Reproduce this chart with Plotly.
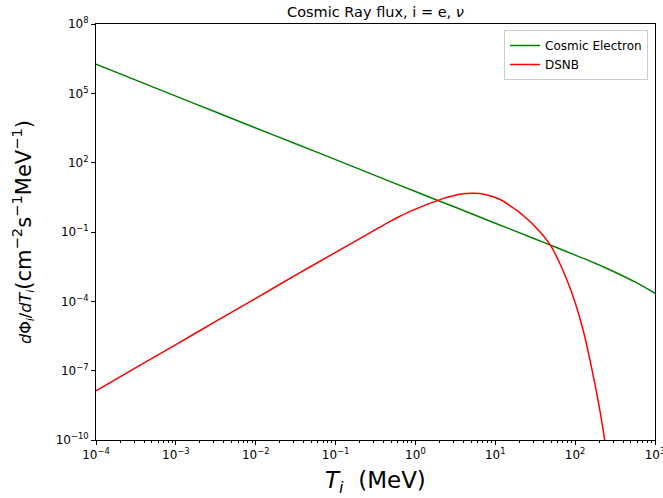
import plotly.graph_objects as go

# ---- data (log-log) ----
electron_T = [1e-4, 3.16e-4, 1e-3, 3.16e-3, 1e-2, 3.16e-2, 0.1, 0.316, 1.0, 3.16, 10,
              31.6, 56.2, 100, 178, 316, 562, 1000]
electron_flux = [1.82e6, 3.72e5, 7.59e4, 1.55e4, 3.16e3, 661, 135, 27.5, 5.62, 1.17, 0.240,
                 0.0501, 0.0224, 0.0100, 4.47e-3, 1.82e-3, 6.92e-4, 2.24e-4]

dsnb_T = [1e-4, 3.16e-4, 1e-3, 3.16e-3, 1e-2, 3.16e-2, 0.1, 0.316, 0.398, 0.501, 0.631,
          0.794, 1.0, 1.26, 1.58, 2.0, 2.51, 3.16, 3.98, 5.01, 6.31, 7.94, 10, 12.6, 15.8,
          20.0, 25.1, 31.6, 39.8, 50.1, 63.1, 79.4, 100, 126, 158, 200, 251]
dsnb_flux = [1.35e-8, 1.35e-7, 1.35e-6, 1.35e-5, 1.35e-4, 1.35e-3, 1.32e-2, 0.126, 0.200,
             0.309, 0.468, 0.692, 0.977, 1.35, 1.82, 2.45, 3.16, 3.89, 4.47, 4.79, 4.68,
             3.98, 3.09, 2.14, 1.26, 0.708, 0.363, 0.170, 0.0708, 0.0240, 5.01e-3, 7.94e-4,
             8.91e-5, 5.62e-6, 1.78e-7, 2.82e-9, 2.24e-11]

x_tickvals = [1e-4, 1e-3, 1e-2, 1e-1, 1e0, 1e1, 1e2, 1e3]
x_ticktext = ["10<sup>−4</sup>", "10<sup>−3</sup>", "10<sup>−2</sup>", "10<sup>−1</sup>",
              "10<sup>0</sup>", "10<sup>1</sup>", "10<sup>2</sup>", "10<sup>3</sup>"]
y_tickvals = [1e-10, 1e-7, 1e-4, 1e-1, 1e2, 1e5, 1e8]
y_ticktext = ["10<sup>−10</sup>", "10<sup>−7</sup>", "10<sup>−4</sup>", "10<sup>−1</sup>",
              "10<sup>2</sup>", "10<sup>5</sup>", "10<sup>8</sup>"]

FONT = "DejaVu Sans"

fig = go.Figure()
fig.add_trace(go.Scatter(x=electron_T, y=electron_flux, mode="lines", name="Cosmic Electron",
                         line=dict(color="#008000", width=1.5, shape="spline", smoothing=0.8)))
fig.add_trace(go.Scatter(x=dsnb_T, y=dsnb_flux, mode="lines", name="DSNB",
                         line=dict(color="#ff0000", width=1.5, shape="spline", smoothing=0.8)))

axis_common = dict(showline=True, linecolor="black", linewidth=1, mirror=True,
                   showgrid=False, zeroline=False, ticks="outside", ticklen=4,
                   tickwidth=1, tickcolor="black", ticklabeloverflow="allow",
                   tickfont=dict(family=FONT, size=12, color="black"))

fig.update_xaxes(type="log", range=[-4, 3], tickvals=x_tickvals, ticktext=x_ticktext,
                 minor=dict(ticks="outside", ticklen=2, tickcolor="black", dtick="D1",
                            showgrid=False),
                 **axis_common)
fig.update_yaxes(type="log", range=[-10, 8], tickvals=y_tickvals, ticktext=y_ticktext,
                 **axis_common)

ylabel = ("<span style='font-size:16px'><i>d</i>Φ<sub><i>i</i></sub>/<i>dT<sub>i</sub></i></span>"
          "(cm<sup>−2</sup>s<sup>−1</sup>MeV<sup>−1</sup>)")

fig.update_layout(
    width=663, height=498,
    margin=dict(l=96, r=8, t=24, b=58, autoexpand=False),
    paper_bgcolor="white", plot_bgcolor="white",
    font=dict(family=FONT, color="black"),
    title=dict(text="Cosmic Ray flux, i = e, <i>ν</i>", x=(96 + 655) / 2 / 663, xanchor="center",
               y=1 - 12 / 498, yanchor="middle", font=dict(family=FONT, size=14.5, color="black")),
    showlegend=True,
    legend=dict(x=0.9875, xanchor="right", y=0.9856, yanchor="top",
                bgcolor="rgba(255,255,255,0.8)", bordercolor="#cccccc", borderwidth=1,
                font=dict(family=FONT, size=12, color="black"), tracegroupgap=0),
    annotations=[
        dict(text="<i>T<sub>i</sub></i>  (MeV)", xref="paper", yref="paper", x=0.5, y=0,
             xanchor="center", yanchor="middle", yshift=-42, showarrow=False,
             font=dict(family=FONT, size=23, color="black")),
        dict(text=ylabel, xref="paper", yref="paper", x=0, y=0.5, xanchor="center",
             yanchor="middle", xshift=-74, textangle=-90, showarrow=False,
             font=dict(family=FONT, size=21, color="black")),
    ],
)

fig.write_html("out.html", config={"displayModeBar": False},
               post_script="document.body.style.margin='0';")
